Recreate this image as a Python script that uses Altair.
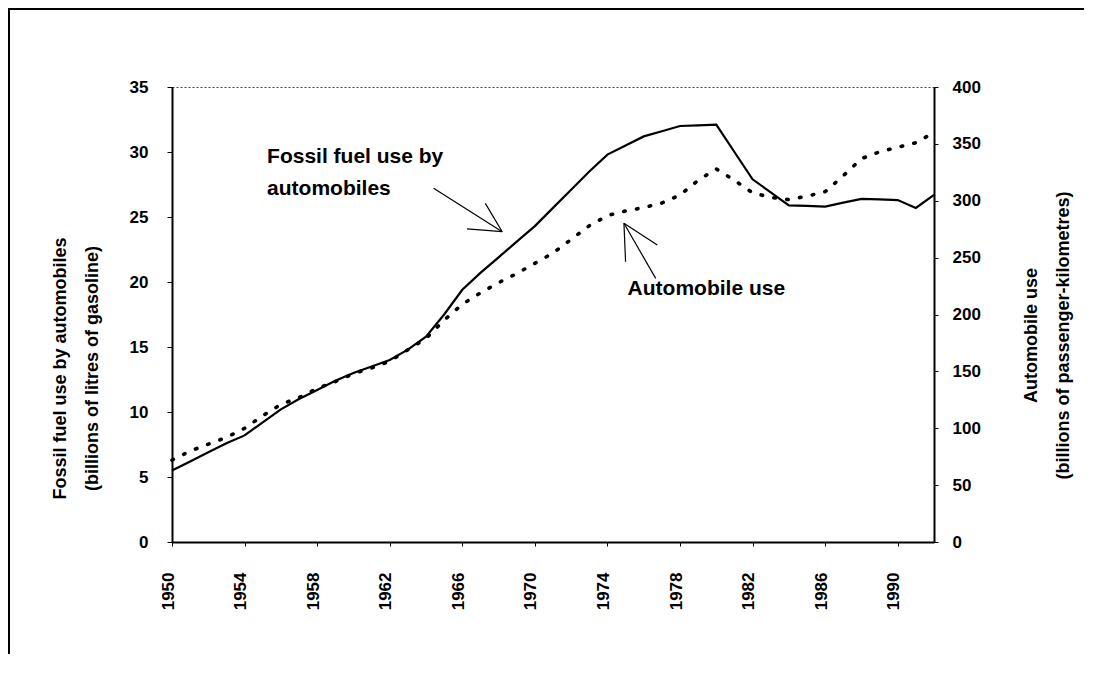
import altair as alt
import pandas as pd

# ---- data ----
years = list(range(1950, 1993))
fuel = [5.5, 6.2, 6.9, 7.6, 8.2, 9.2, 10.2, 11.0, 11.7, 12.4,
        13.0, 13.5, 14.0, 14.8, 15.8, 17.5, 19.4, 20.7, 21.9, 23.1,
        24.3, 25.7, 27.1, 28.5, 29.8, 30.5, 31.2, 31.6, 32.0, 32.05,
        32.1, 30.0, 27.9, 26.9, 25.9, 25.85, 25.8, 26.1, 26.4, 26.35,
        26.3, 25.7, 26.7]
autos = [72, 80, 86, 92, 100, 111, 121, 127, 135, 141,
         148, 153, 159, 169, 179, 195, 209, 219, 228, 236,
         245, 254, 266, 278, 287, 291, 294, 298, 305, 318,
         328, 318, 307, 303, 301, 304, 308, 322, 337, 343,
         347, 351, 360]
left_ticks = [0, 5, 10, 15, 20, 25, 30, 35]
right_ticks = [0, 50, 100, 150, 200, 250, 300, 350, 400]

left_title = ["Fossil fuel use by automobiles", "(billions of litres of gasoline)"]
right_title = ["Automobile use", "(billions of passenger-kilometres)"]

# annotation text and arrows (in year / left-axis units)
note_text = ["Fossil fuel use by", "automobiles", "Automobile use"]
note_x = [1955.24, 1955.24, 1975.11]
note_y = [29.15, 26.69, 19.0]

arrow_x1 = [1964.42, 1968.20, 1968.20, 1974.91, 1974.91, 1974.91]
arrow_y1 = [27.21, 23.87, 23.87, 24.52, 24.52, 24.52]
arrow_x2 = [1968.20, 1967.27, 1966.26, 1976.66, 1975.00, 1976.75]
arrow_y2 = [23.87, 26.05, 24.08, 20.28, 21.56, 22.85]

FONT = "Liberation Sans"

df = pd.DataFrame({"year": years, "fuel": fuel, "autos": autos})
notes = pd.DataFrame({"t": note_text, "x": note_x, "y": note_y})
arrows = pd.DataFrame({"x1": arrow_x1, "y1": arrow_y1, "x2": arrow_x2, "y2": arrow_y2})
one = pd.DataFrame({"a": [0]})

xscale = alt.Scale(domain=[1950, 1992], nice=False, zero=False)
lscale = alt.Scale(domain=[0, 35], nice=False)

x_axis = alt.Axis(
    values=years,
    labelExpr="(datum.value - 1950) % 4 == 0 ? '' + datum.value : ''",
    labelAngle=270, labelAlign="right", labelBaseline="middle",
    labelOverlap=False, labelFlush=False, labelPadding=26, labelOffset=-4,
    labelFont=FONT, labelFontSize=17, labelFontWeight="bold", labelColor="black",
    tickSize=4, tickWidth=1, tickColor="black",
    domainWidth=2, domainColor="black", grid=False, title="",
)

left_axis = alt.Axis(
    values=left_ticks, tickSize=5, tickWidth=1, tickColor="black",
    labelPadding=19, labelFont=FONT, labelFontSize=17, labelFontWeight="bold",
    labelColor="black", domainWidth=2, domainColor="black", grid=False,
    title=left_title, titleAngle=270, titleX=-112, titleY=281,
    titleAlign="center", titleBaseline="middle", titleFont=FONT,
    titleFontSize=18, titleFontWeight="bold", titleLineHeight=32, titleColor="black",
)

right_axis = alt.Axis(
    orient="right", values=right_ticks, tickSize=4, tickWidth=1, tickColor="black",
    labelPadding=14, labelFont=FONT, labelFontSize=17, labelFontWeight="bold",
    labelColor="black", domainWidth=2, domainColor="black", grid=False,
    title=right_title, titleAngle=270, titleX=97, titleY=248,
    titleAlign="center", titleBaseline="middle", titleFont=FONT,
    titleFontSize=18, titleFontWeight="bold", titleLineHeight=32, titleColor="black",
)

solid = alt.Chart(df).mark_line(color="black", strokeWidth=2.2).encode(
    x=alt.X("year:Q", scale=xscale, axis=x_axis),
    y=alt.Y("fuel:Q", scale=lscale, axis=left_axis),
)

arrow_layer = alt.Chart(arrows).mark_rule(color="black", strokeWidth=1.2).encode(
    x=alt.X("x1:Q", scale=xscale),
    y=alt.Y("y1:Q", scale=lscale),
    x2="x2:Q",
    y2="y2:Q",
)

text_layer = alt.Chart(notes).mark_text(
    align="left", baseline="alphabetic", font=FONT, fontSize=21,
    fontWeight="bold", color="black",
).encode(
    x=alt.X("x:Q", scale=xscale),
    y=alt.Y("y:Q", scale=lscale),
    text="t:N",
)

frame_top = alt.Chart(one).mark_rule(color="black", strokeWidth=2).encode(
    x=alt.value(-164), x2=alt.value(920), y=alt.value(-78)
)
frame_left = alt.Chart(one).mark_rule(color="black", strokeWidth=2).encode(
    x=alt.value(-163), y=alt.value(-79), y2=alt.value(600)
)

left_part = alt.layer(solid, arrow_layer, text_layer, frame_top, frame_left)

dotted = alt.Chart(df).mark_line(
    color="black", strokeWidth=3.6, strokeDash=[1.5, 11.5], strokeCap="round"
).encode(
    x=alt.X("year:Q", scale=xscale),
    y=alt.Y("autos:Q", scale=alt.Scale(domain=[0, 400], nice=False), axis=right_axis),
)

chart = alt.layer(left_part, dotted).resolve_scale(y="independent").properties(
    width=762, height=455,
    padding={"left": 164, "top": 79, "right": 150, "bottom": 112},
    autosize=alt.AutoSizeParams(type="none"),
    background="white",
).configure_view(stroke="#444", strokeDash=[2, 2], strokeWidth=1)

chart.save("out.html", embed_options={"renderer": "svg", "actions": False})
